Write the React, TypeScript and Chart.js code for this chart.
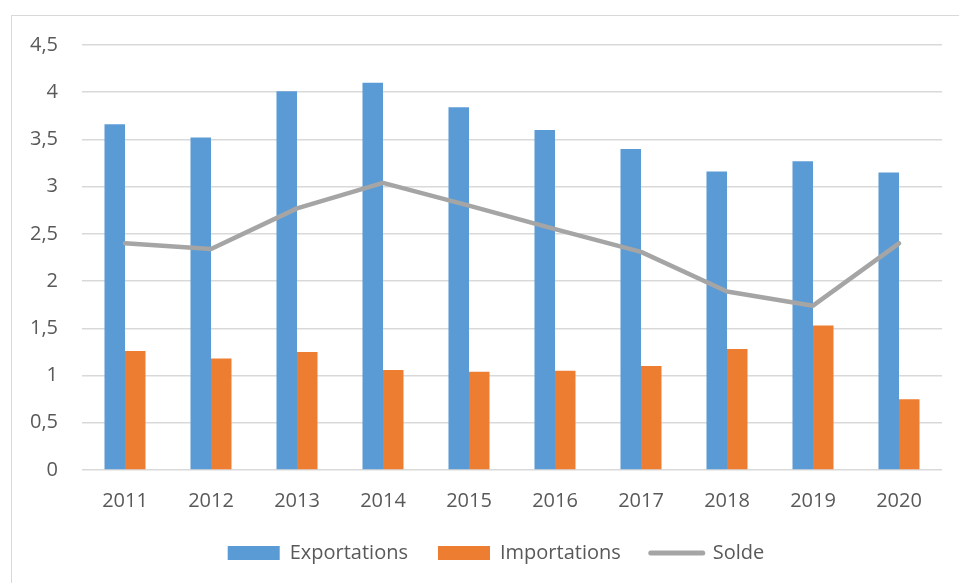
import React, { useEffect, useRef } from 'react';
import { Chart, registerables } from 'chart.js';

Chart.register(...registerables);

// ---- Data ----
const years = ['2011', '2012', '2013', '2014', '2015', '2016', '2017', '2018', '2019', '2020'];
const exportations = [3.66, 3.52, 4.01, 4.10, 3.84, 3.60, 3.40, 3.16, 3.27, 3.15];
const importations = [1.26, 1.18, 1.25, 1.06, 1.04, 1.05, 1.10, 1.28, 1.53, 0.75];
const solde = [2.40, 2.34, 2.77, 3.04, 2.80, 2.55, 2.31, 1.89, 1.74, 2.40];
const seriesNames = ['Exportations', 'Importations', 'Solde'];
const Y_MIN = 0;
const Y_MAX = 4.5;
const Y_STEP = 0.5;

const BLUE = '#5B9BD5';
const ORANGE = '#ED7D31';
const GREY = '#A5A5A5';
const TEXT = '#595959';
const GRID = '#d9d9d9';

const legendShift = {
  id: 'legendShift',
  afterLayout(chart: any) {
    if (chart.legend) {
      chart.legend.left = 50;
    }
  },
};

export default function App() {
  const ref = useRef<HTMLCanvasElement>(null);

  useEffect(() => {
    const font = { family: "'Open Sans', sans-serif", size: 20 };
    const chart = new Chart(ref.current as HTMLCanvasElement, {
      type: 'bar',
      data: {
        labels: years,
        datasets: [
          {
            type: 'bar',
            label: seriesNames[0],
            data: exportations,
            backgroundColor: BLUE,
            categoryPercentage: 0.477,
            barPercentage: 1,
            order: 1,
          },
          {
            type: 'bar',
            label: seriesNames[1],
            data: importations,
            backgroundColor: ORANGE,
            categoryPercentage: 0.477,
            barPercentage: 1,
            order: 1,
          },
          {
            type: 'line',
            label: seriesNames[2],
            data: solde,
            borderColor: GREY,
            backgroundColor: GREY,
            borderWidth: 4.5,
            pointRadius: 0,
            borderCapStyle: 'round',
            borderJoinStyle: 'round',
            tension: 0,
            order: 0,
          },
        ],
      } as any,
      options: {
        responsive: false,
        animation: false,
        layout: { padding: { left: 0, right: 17, top: 45, bottom: 0 } },
        plugins: {
          tooltip: { enabled: false },
          legend: {
            position: 'bottom',
            labels: {
              font,
              color: TEXT,
              padding: 30,
              usePointStyle: true,
              pointStyleWidth: 52,
              boxHeight: 14,
              sort: (a: any, b: any) => a.datasetIndex - b.datasetIndex,
              generateLabels: (c: any) => {
                const items = (Chart.defaults.plugins.legend.labels as any).generateLabels(c);
                return items.map((it: any) => {
                  if (it.datasetIndex === 2) {
                    return { ...it, pointStyle: 'line', lineWidth: 5, strokeStyle: GREY, lineCap: 'round' };
                  }
                  return { ...it, pointStyle: 'rect', lineWidth: 0 };
                });
              },
            },
          },
        },
        scales: {
          x: {
            grid: { display: false, drawTicks: false },
            border: { display: false },
            ticks: { font, color: TEXT, padding: 19 },
            afterFit: (s: any) => {
              s.height = 43;
            },
          },
          y: {
            min: Y_MIN,
            max: Y_MAX,
            ticks: {
              stepSize: Y_STEP,
              font,
              color: TEXT,
              padding: 24,
              callback: (v: any) => String(v).replace('.', ','),
            },
            grid: { color: GRID, lineWidth: 1.5, drawTicks: false },
            border: { display: false },
            afterFit: (s: any) => {
              s.width = 82;
            },
          },
        },
      } as any,
      plugins: [legendShift],
    });
    return () => chart.destroy();
  }, []);

  return (
    <div
      style={{
        position: 'fixed',
        left: 0,
        top: 0,
        width: 959,
        height: 583,
        overflow: 'hidden',
        background: '#ffffff',
      }}
    >
      <div
        style={{
          position: 'absolute',
          left: 11,
          top: 15,
          width: 2000,
          height: 2000,
          borderLeft: '1px solid #d9d9d9',
          borderTop: '1px solid #d9d9d9',
        }}
      />
      <canvas
        ref={ref}
        width={959}
        height={573}
        style={{ position: 'absolute', left: 0, top: 0, width: 959, height: 573, display: 'block' }}
      />
    </div>
  );
}
